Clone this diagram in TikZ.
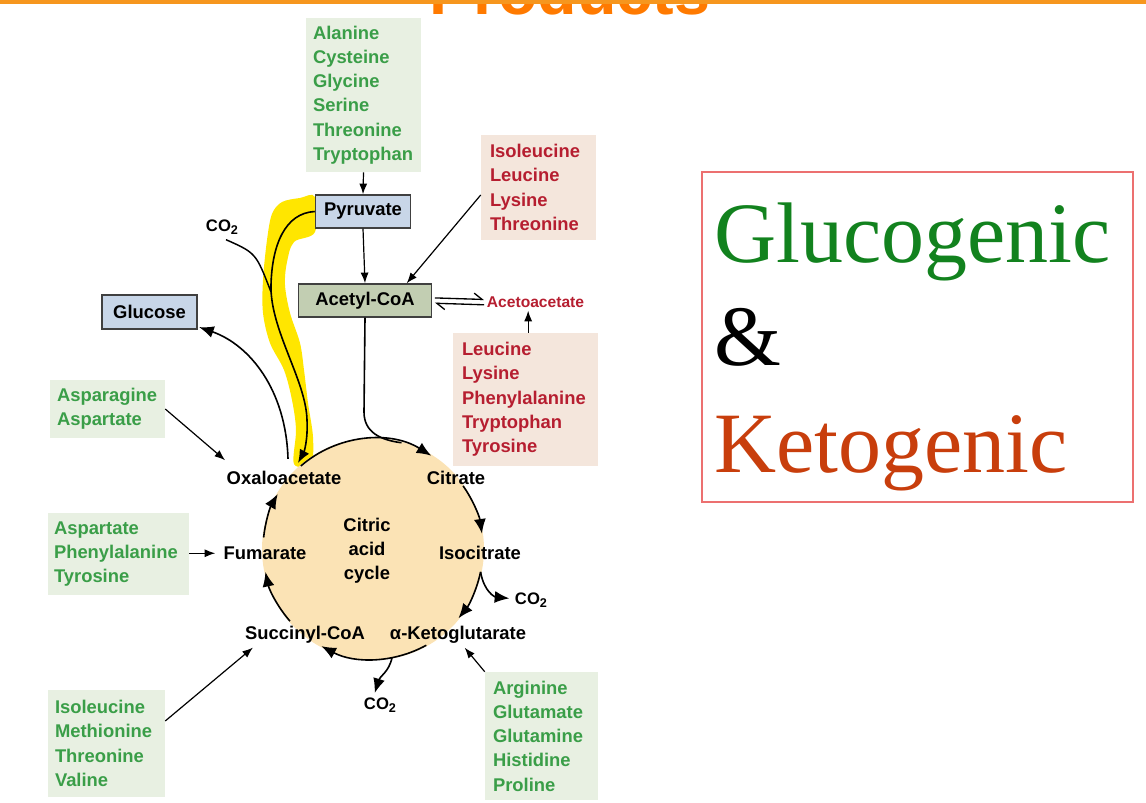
\documentclass[tikz,border=0pt]{standalone}
\usepackage{fontspec}
\setmainfont{Liberation Sans}
\newfontfamily\serifx{Liberation Serif}
\usetikzlibrary{arrows.meta,calc}
\definecolor{gtxt}{RGB}{58,158,72}
\definecolor{gfill}{RGB}{232,240,226}
\definecolor{rtxt}{RGB}{182,30,48}
\definecolor{rfill}{RGB}{244,230,220}
\definecolor{bfill}{RGB}{200,214,232}
\definecolor{afill}{RGB}{194,206,178}
\definecolor{cfill}{RGB}{251,227,181}
\definecolor{hl}{RGB}{255,230,0}
\definecolor{ttl}{RGB}{255,122,0}
\definecolor{topbar}{RGB}{246,150,30}
\definecolor{glu}{RGB}{18,130,30}
\definecolor{ket}{RGB}{200,62,12}
\definecolor{frm}{RGB}{236,112,112}
\definecolor{edge}{RGB}{64,64,64}
\newcommand\cosub{CO\raisebox{-0.35ex}{\fontsize{9.5}{11}\selectfont 2}}
\begin{document}
\begin{tikzpicture}[x=0.75pt,y=-0.75pt,
  lbl/.style={font=\bfseries\fontsize{13.8}{18.2}\selectfont, inner sep=3pt, anchor=base},
  co2/.style={font=\bfseries\fontsize{12.5}{14}\selectfont, inner sep=3pt, anchor=base},
  gbox/.style={fill=gfill, text=gtxt, align=left, inner ysep=0pt, font=\bfseries\fontsize{13.8}{18.2}\selectfont},
  rbox/.style={fill=rfill, text=rtxt, align=left, inner ysep=0pt, font=\bfseries\fontsize{13.8}{18.2}\selectfont},
  mbox/.style={draw=edge, line width=1.1pt, font=\bfseries\fontsize{13.8}{18.2}\selectfont, inner sep=0pt},
  arr/.style={line width=0.9pt, -{Latex[length=8pt,width=6pt]}},
  cyc/.style={line width=1.2pt, -{Latex[length=11pt,width=9pt]}},
  harp/.style={line width=1pt, -{Straight Barb[harpoon,length=6pt,width=9pt]}, shorten >=2pt, shorten <=2pt}]
\useasboundingbox (0,0) rectangle (1146,803);
\clip (0,0) rectangle (1146,803);
% title and top bar
\node[anchor=base, inner sep=0pt, font=\bfseries\fontsize{48.5}{50}\selectfont, text=ttl] (title) at (570,14) {Products};
\fill[topbar] (0,0) rectangle (1146,4);
% yellow highlight
\fill[hl] plot[smooth cycle, tension=0.55] coordinates {(315,197) (315,232) (294,242) (287,262) (285,285) (290,313) (300,343) (304,370) (308,403) (313,437) (311,463) (294,464) (296,430) (292,400) (284,370) (270,343) (263,313) (263,280) (267,240) (272,214) (282,202) (300,198)};
% cycle
\node[circle, fill=cfill, minimum size=166.5pt, inner sep=0pt] (cc) at (373,549) {};
\node[font=\bfseries\fontsize{13.8}{18}\selectfont, align=center, inner sep=0pt] (cyctxt) at (367,551) {Citric\\acid\\cycle};
% boxes
\node[gbox, text width=75.75pt, inner xsep=5.25pt, minimum height=115.5pt] (ala) at (363.5,95) {Alanine\\Cysteine\\Glycine\\Serine\\Threonine\\Tryptophan};
\node[rbox, text width=72.75pt, inner xsep=6.75pt, minimum height=78.75pt] (ile1) at (538.5,187.5) {Isoleucine\\Leucine\\Lysine\\Threonine};
\node[rbox, text width=95.25pt, inner xsep=6.75pt, minimum height=99.75pt] (leu) at (525.5,399.5) {Leucine\\Lysine\\Phenylalanine\\Tryptophan\\Tyrosine};
\node[gbox, text width=75.75pt, inner xsep=5.25pt, minimum height=43.5pt] (asn) at (107.5,409) {Asparagine\\Aspartate};
\node[gbox, text width=96.75pt, inner xsep=4.5pt, minimum height=61.5pt] (asp) at (118.5,554) {Aspartate\\Phenylalanine\\Tyrosine};
\node[gbox, text width=77.25pt, inner xsep=5.25pt, minimum height=80.25pt] (ile2) at (106.5,743.5) {Isoleucine\\Methionine\\Threonine\\Valine};
\node[gbox, text width=72.75pt, inner xsep=6pt, minimum height=96pt] (arg) at (541.5,736) {Arginine\\Glutamate\\Glutamine\\Histidine\\Proline};
\node[mbox, fill=bfill, minimum width=71.25pt, minimum height=24.75pt] (pyr) at (363,211.5) {Pyruvate};
\node[mbox, fill=afill, minimum width=99.75pt, minimum height=24.75pt] (acc) at (365,300.5) {Acetyl-CoA};
\node[mbox, fill=bfill, minimum width=71.25pt, minimum height=25.5pt] (glc) at (149.5,312) {Glucose};
% labels
\node[lbl] (oaa) at (284,484.5) {Oxaloacetate};
\node[lbl] (cit) at (456,484.5) {Citrate};
\node[lbl] (fum) at (265,559.5) {Fumarate};
\node[lbl] (isc) at (480,559.5) {Isocitrate};
\node[lbl] (suc) at (305,639.5) {Succinyl-CoA};
\node[lbl] (akg) at (458,639.5) {α-Ketoglutarate};
\node[anchor=base, inner sep=0pt, text=rtxt, font=\bfseries\fontsize{11.7}{14}\selectfont] (aceto) at (535.5,307.5) {Acetoacetate};
\node[co2] (co2a) at (222,231) {\cosub};
\node[co2] (co2b) at (531,604) {\cosub};
\node[co2] (co2c) at (380,709) {\cosub};
% coordinates on the circle
\coordinate (s1) at ($(cc)+(229:110)$);
\coordinate (s2) at ($(cc)+(325:110)$);
\coordinate (s3) at ($(cc)+(12:110)$);
\coordinate (s4) at ($(cc)+(61:110)$);
\coordinate (s5) at ($(cc)+(139:110)$);
\coordinate (s6) at ($(cc)+(186:110)$);
\coordinate (mrg) at ($(cc)+(285:110)$);
\coordinate (kc) at ($(cc)+(80:110)$);
\coordinate (oaaT) at (298,463);
% cycle arcs
\draw[cyc] (s1) arc[start angle=229, end angle=302, radius=110];
\draw[cyc] (s2) arc[start angle=325, end angle=352, radius=110];
\draw[cyc] (s3) arc[start angle=12, end angle=39, radius=110];
\draw[cyc] (s4) arc[start angle=61, end angle=118, radius=110];
\draw[cyc] (s5) arc[start angle=139, end angle=168, radius=110];
\draw[cyc] (s6) arc[start angle=186, end angle=210, radius=110];
% connectors
\draw[arr] (ala.south) -- (pyr.north);
\draw[arr] (pyr.south) -- (acc.north);
\draw[arr] ([yshift=-5.6pt]ile1.west) -- ($(acc.north)!0.62!(acc.north east)$);
\draw[harp] ([yshift=2pt]acc.east) -- ([yshift=2pt]aceto.west);
\draw[harp] ([yshift=-2pt]aceto.west) -- ([yshift=-2pt]acc.east);
\draw[arr] ([xshift=2pt]leu.north) -- ([xshift=2pt,yshift=-2pt]leu.north |- aceto.south);
\draw[line width=1.2pt] (acc.south) -- (364,412) .. controls (364,432) and (380,440) .. (mrg);
\draw[line width=1.2pt, -{Latex[length=10pt,width=8pt]}] (pyr.west) .. controls (285,213) and (272,245) .. (271,285) .. controls (270,330) and (306,380) .. (307,420) .. controls (308,440) and (304,452) .. (oaaT);
\draw[line width=1.1pt] ([xshift=3pt,yshift=-1pt]co2a.south) .. controls (256,253) .. (271,292);
\draw[cyc] ([xshift=3pt,yshift=6pt]oaa.north) .. controls (286,390) and (250,345) .. ([xshift=1pt,yshift=2pt]glc.south east);
\draw[arr] (asn.east) -- ([xshift=2pt,yshift=5pt]oaa.north west);
\draw[arr, shorten >=3pt] (asp.east |- fum.west) -- (fum.west);
\draw[arr] ([yshift=16.9pt]ile2.east) -- ([xshift=9pt]suc.south west);
\draw[arr] (arg.north west) -- ([xshift=5pt]akg.south);
\draw[cyc] (s3) .. controls (484,592) and (495,597) .. ([xshift=-1pt,yshift=1pt]co2b.west);
\draw[cyc] (kc) .. controls (389,672) and (380,676) .. ([xshift=-4pt]co2c.north);
% right panel
\node[draw=frm, line width=1pt, minimum width=323.25pt, minimum height=247.5pt, inner sep=0pt] (panel) at (917.5,337) {};
\node[anchor=base west, inner sep=0pt, text=glu, font=\serifx\fontsize{64.5}{70}\selectfont] (gtext) at (714,262) {Glucogenic};
\node[anchor=base west, inner sep=0pt, text=black, font=\serifx\fontsize{64.5}{70}\selectfont] (amp) at (714,365) {\&};
\node[anchor=base west, inner sep=0pt, text=ket, font=\serifx\fontsize{64.5}{70}\selectfont] (ktext) at (714,472) {Ketogenic};
\end{tikzpicture}
\end{document}
